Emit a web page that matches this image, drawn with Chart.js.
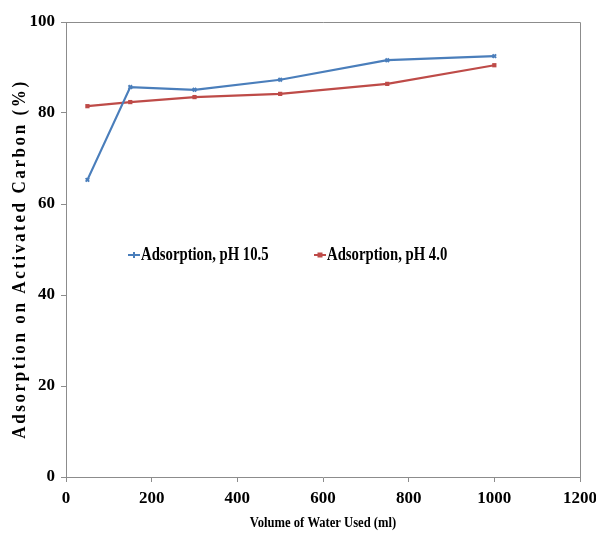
<!DOCTYPE html>
<html><head><meta charset="utf-8">
<script src="https://cdn.jsdelivr.net/npm/chart.js@4.4.1/dist/chart.umd.min.js"></script>
<style>html,body{margin:0;padding:0;background:#fff}#wrap{width:596px;height:537px}</style>
</head><body><div id="wrap"><canvas id="c" width="596" height="537"></canvas></div>
<script>
const volumes = [50, 150, 300, 500, 750, 1000];
const ph105 = [65.3, 85.7, 85.1, 87.3, 91.6, 92.5];
const ph40 = [81.5, 82.4, 83.5, 84.2, 86.4, 90.5];
const seriesLabels = ['Adsorption, pH 10.5', 'Adsorption, pH 4.0'];
const xTitle = 'Volume of Water Used (ml)';
const yTitle = 'Adsorption on Activated Carbon (%)';
const BLUE = '#4A7EBB', RED = '#BE4B48', AXIS = '#8c8c8c';
const FONT = '"Liberation Serif", "Times New Roman", serif';

const frame = {
  id: 'frame',
  afterDraw(chart) {
    const {ctx, chartArea: a} = chart;
    ctx.save();
    ctx.strokeStyle = AXIS; ctx.lineWidth = 1;
    ctx.beginPath();
    ctx.moveTo(a.left, a.top + 0.5); ctx.lineTo(a.right + 0.5, a.top + 0.5);
    ctx.lineTo(a.right + 0.5, a.bottom);
    ctx.stroke();
    // y title
    ctx.fillStyle = '#000';
    ctx.font = 'bold 17px ' + FONT;
    ctx.letterSpacing = '2.6px';
    ctx.translate(20, 259);
    ctx.rotate(-Math.PI / 2);
    ctx.scale(1, 1.12);
    ctx.textAlign = 'center'; ctx.textBaseline = 'middle';
    ctx.fillText(yTitle, 0, 0);
    ctx.restore();
    // x title
    ctx.save();
    ctx.fillStyle = '#000';
    ctx.font = 'bold 14px ' + FONT;
    ctx.textAlign = 'center'; ctx.textBaseline = 'middle';
    ctx.translate((a.left + a.right) / 2, 523);
    ctx.scale(0.9, 1.1);
    ctx.fillText(xTitle, 0, 0);
    ctx.restore();
    // legend
    const items = [{x: 128, c: BLUE, s: 'cross', lab: chart.data.datasets[0].label},
                   {x: 314, c: RED, s: 'rect', lab: chart.data.datasets[1].label}];
    const y = 255;
    items.forEach(it => {
      ctx.save();
      ctx.strokeStyle = it.c; ctx.fillStyle = it.c; ctx.lineWidth = 2;
      ctx.beginPath(); ctx.moveTo(it.x, y); ctx.lineTo(it.x + 12, y); ctx.stroke();
      if (it.s === 'rect') ctx.fillRect(it.x + 3.5, y - 2.5, 5, 5);
      else { ctx.beginPath(); ctx.moveTo(it.x + 6, y - 3); ctx.lineTo(it.x + 6, y + 3); ctx.stroke(); }
      ctx.fillStyle = '#000';
      ctx.font = 'bold 16px ' + FONT;
      ctx.textBaseline = 'middle';
      ctx.translate(it.x + 13, y);
      ctx.scale(0.92, 1.15);
      ctx.fillText(it.lab, 0, 0);
      ctx.restore();
    });
  }
};

new Chart(document.getElementById('c'), {
  type: 'line',
  data: {
    datasets: [
      {label: seriesLabels[0], data: volumes.map((v, i) => ({x: v, y: ph105[i]})),
       borderColor: BLUE, backgroundColor: BLUE, borderWidth: 2.2, pointStyle: 'crossRot',
       pointRadius: 2.5, pointBorderWidth: 2, tension: 0},
      {label: seriesLabels[1], data: volumes.map((v, i) => ({x: v, y: ph40[i]})),
       borderColor: RED, backgroundColor: RED, borderWidth: 2.2, pointStyle: 'rect',
       pointRadius: 3, pointBorderWidth: 0, tension: 0}
    ]
  },
  options: {
    responsive: false, animation: false, devicePixelRatio: 1,
    layout: {padding: {left: 0, right: 16, top: 22, bottom: 0}},
    plugins: {legend: {display: false}, tooltip: {enabled: false}},
    scales: {
      x: {type: 'linear', min: 0, max: 1200,
          ticks: {stepSize: 200, color: '#000', font: {family: FONT, size: 17, weight: 'bold'}, padding: 6, maxRotation: 0,
                  callback: v => String(v)},
          grid: {display: true, drawOnChartArea: false, drawTicks: true, tickLength: 5, color: AXIS},
          border: {color: AXIS},
          afterFit(s) { s.height = 60; s.paddingLeft = 0; s.paddingRight = 0; }},
      y: {min: 0, max: 100,
          ticks: {stepSize: 20, color: '#000', font: {family: FONT, size: 17, weight: 'bold'}, padding: 6,
                  callback: v => String(v)},
          grid: {display: true, drawOnChartArea: false, drawTicks: true, tickLength: 5, color: AXIS},
          border: {color: AXIS},
          afterFit(s) { s.width = 66; s.paddingTop = 0; s.paddingBottom = 0; }}
    }
  },
  plugins: [frame]
});
</script></body></html>
